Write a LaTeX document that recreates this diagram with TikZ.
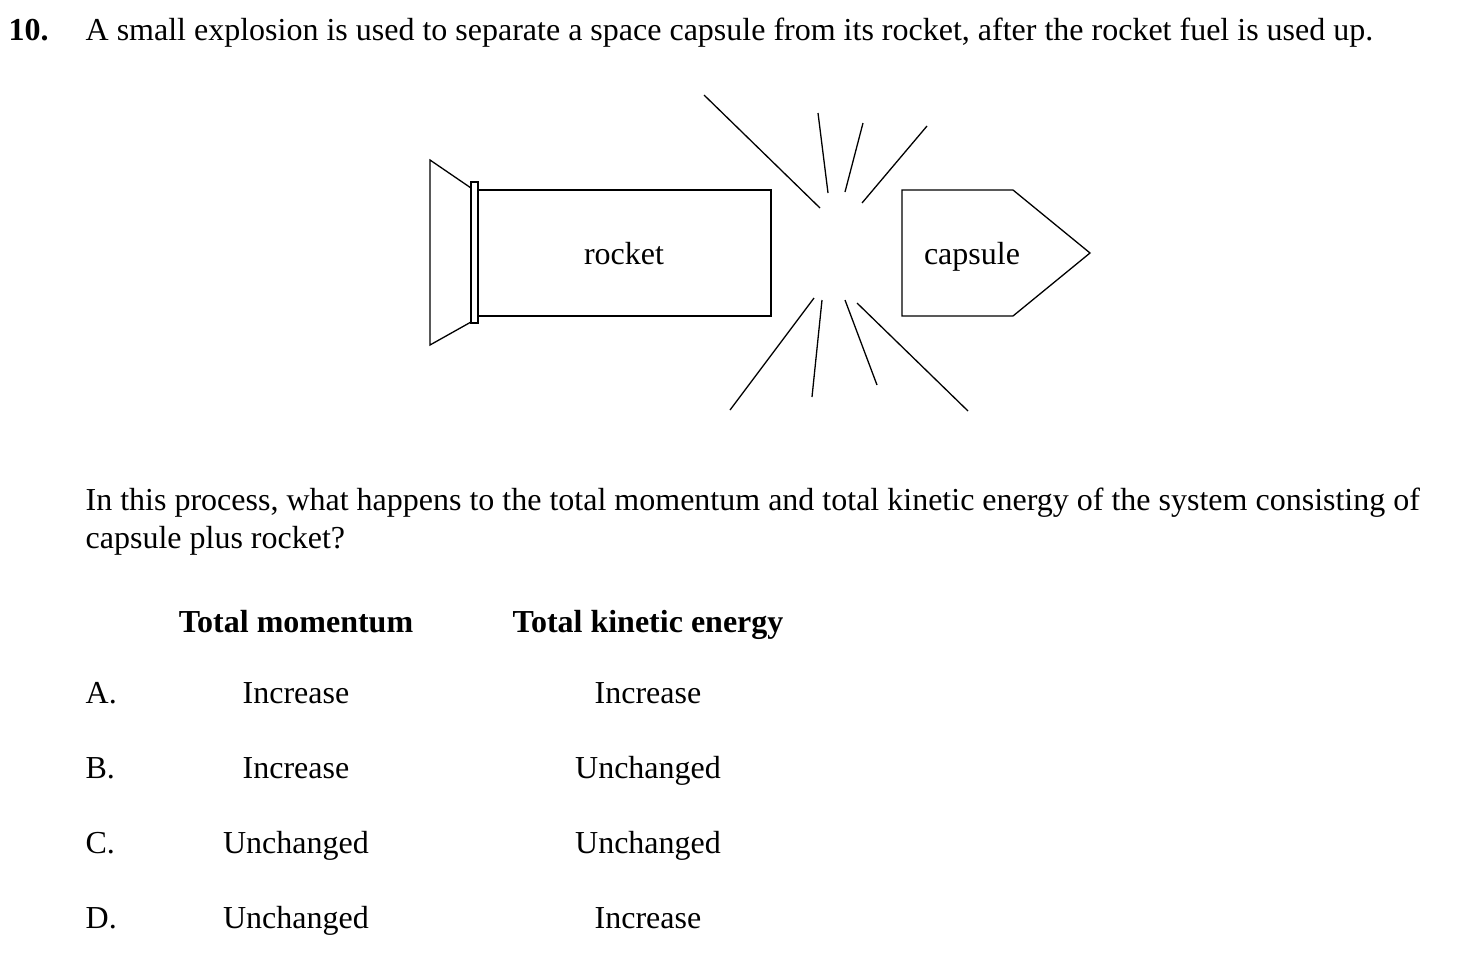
\documentclass[tikz,border=0pt]{standalone}
\usepackage{fontspec}
\setmainfont{Liberation Serif}
\begin{document}
\begin{tikzpicture}[x=1pt,y=-1pt,line width=1.3pt,
  txt/.style={font=\fontsize{32}{38}\selectfont,inner sep=0pt,anchor=base},
  lbl/.style={txt,anchor=base west}]
\useasboundingbox (0,0) rectangle (1470,962);
\node[lbl] (num) at (8,40) {\textbf{10.}};
\node[lbl] (q) at (85,40) {A small explosion is used to separate a space capsule from its rocket, after the rocket fuel is used up.};
% rocket
\draw (471,188) -- (430,160) -- (430,345) -- (471,322);
\draw (471,182) rectangle (478,323);
\draw (478,190) rectangle (771,316);
\node[txt] (r) at (624,264) {rocket};
\draw (902,190) -- (1013,190) -- (1090,253) -- (1013,316) -- (902,316) -- cycle;
\node[txt] (c) at (972,264) {capsule};
% explosion
\draw (704,95)--(820,208) (818,113)--(828,193) (863,123)--(845,192) (927,126)--(862,203);
\draw (730,410)--(814,298) (812,397)--(822,300) (877,385)--(845,300) (968,411)--(857,303);
\node[lbl] (p1) at (85,510) {In this process, what happens to the total momentum and total kinetic energy of the system consisting of};
\node[lbl] (p2) at (85,548) {capsule plus rocket?};
\node[txt] (h1) at (296,632) {\textbf{Total momentum}};
\node[txt] (h2) at (648,632) {\textbf{Total kinetic energy}};
\foreach \l/\m/\k [count=\i] in {A./Increase/Increase,B./Increase/Unchanged,C./Unchanged/Unchanged,D./Unchanged/Increase}{
  \node[lbl] (l\i) at (85,628+75*\i) {\l};
  \node[txt] (m\i) at (296,628+75*\i) {\m};
  \node[txt] (k\i) at (648,628+75*\i) {\k};
}
\end{tikzpicture}
\end{document}
